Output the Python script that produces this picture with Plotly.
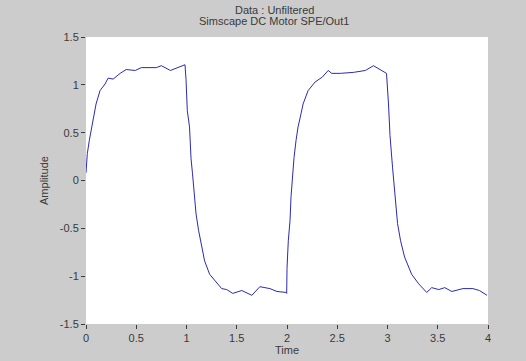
import plotly.graph_objects as go

time = [0.0, 0.013, 0.033, 0.057, 0.08, 0.10, 0.14, 0.19, 0.22, 0.27, 0.34, 0.40, 0.49, 0.55,
        0.70, 0.75, 0.84, 0.92, 0.985, 0.995, 1.008, 1.03, 1.045, 1.06, 1.075, 1.095, 1.12,
        1.15, 1.18, 1.23, 1.28, 1.35, 1.40, 1.46, 1.55, 1.65, 1.73, 1.83, 1.90, 1.99, 1.997,
        2.0, 2.013, 2.03, 2.04, 2.053, 2.07, 2.09, 2.11, 2.14, 2.16, 2.21, 2.28, 2.35, 2.41,
        2.445, 2.53, 2.66, 2.78, 2.86, 2.925, 2.975, 2.99, 3.01, 3.025, 3.05, 3.075, 3.10,
        3.13, 3.17, 3.24, 3.31, 3.39, 3.44, 3.51, 3.57, 3.64, 3.75, 3.85, 3.915, 3.99]
amplitude = [0.08, 0.28, 0.42, 0.56, 0.70, 0.80, 0.94, 1.01, 1.07, 1.06, 1.12, 1.16, 1.15, 1.18,
             1.18, 1.20, 1.15, 1.18, 1.21, 1.06, 0.73, 0.56, 0.23, 0.07, -0.14, -0.35, -0.52,
             -0.70, -0.84, -0.98, -1.04, -1.13, -1.14, -1.18, -1.15, -1.20, -1.11, -1.13, -1.16,
             -1.17, -1.18, -0.92, -0.63, -0.42, -0.17, 0.03, 0.24, 0.42, 0.56, 0.70, 0.80, 0.94,
             1.03, 1.08, 1.15, 1.12, 1.12, 1.13, 1.15, 1.20, 1.16, 1.13, 1.12, 0.80, 0.47, 0.14,
             -0.19, -0.45, -0.63, -0.80, -0.98, -1.08, -1.17, -1.12, -1.14, -1.12, -1.16, -1.13,
             -1.13, -1.15, -1.20]

x_ticks = [0, 0.5, 1, 1.5, 2, 2.5, 3, 3.5, 4]
x_tick_labels = ["0", "0.5", "1", "1.5", "2", "2.5", "3", "3.5", "4"]
y_ticks = [-1.5, -1, -0.5, 0, 0.5, 1, 1.5]
y_tick_labels = ["-1.5", "-1", "-0.5", "0", "0.5", "1", "1.5"]

title_lines = ["Data : Unfiltered", "Simscape DC Motor SPE/Out1"]
x_label = "Time"
y_label = "Amplitude"

W, H = 526, 361
L, R, T, B = 86, 38, 37, 37

fig = go.Figure()
fig.add_trace(go.Scatter(x=time, y=amplitude, mode="lines",
                         line=dict(color="#2a2ab4", width=1), showlegend=False))

font = dict(family="Liberation Sans, Arial, sans-serif", size=11, color="#3a3a3a")

fig.update_layout(
    width=W, height=H,
    margin=dict(l=L, r=R, t=T, b=B, autoexpand=False),
    paper_bgcolor="#cccccc",
    plot_bgcolor="#ffffff",
    font=font,
)
# title lines as paper annotations
for i, line in enumerate(title_lines):
    fig.add_annotation(text=line, xref="paper", yref="paper",
                       x=(274 - L) / (W - L - R), xanchor="center",
                       y=1 + (T - 10 - 11 * i) / (H - T - B), yanchor="middle",
                       showarrow=False, font=dict(size=11, color="#3a3a3a"))

fig.update_xaxes(range=[0, 4], tickvals=x_ticks, ticktext=x_tick_labels,
                 showgrid=False, zeroline=False, showline=False, automargin=False,
                 ticks="outside", ticklen=4, tickcolor="#3a3a3a",
                 title=dict(text=x_label, standoff=0, font=font))
fig.update_yaxes(range=[-1.5, 1.5], tickvals=y_ticks, ticktext=y_tick_labels,
                 showgrid=False, zeroline=False, showline=False, automargin=False,
                 ticks="outside", ticklen=4, tickcolor="#3a3a3a",
                 title=dict(text=y_label, standoff=8, font=font))

fig.write_html("out.html",
               config={"displayModeBar": False},
               post_script="document.body.style.margin='0';"
                           "document.body.style.background='#cccccc';")
